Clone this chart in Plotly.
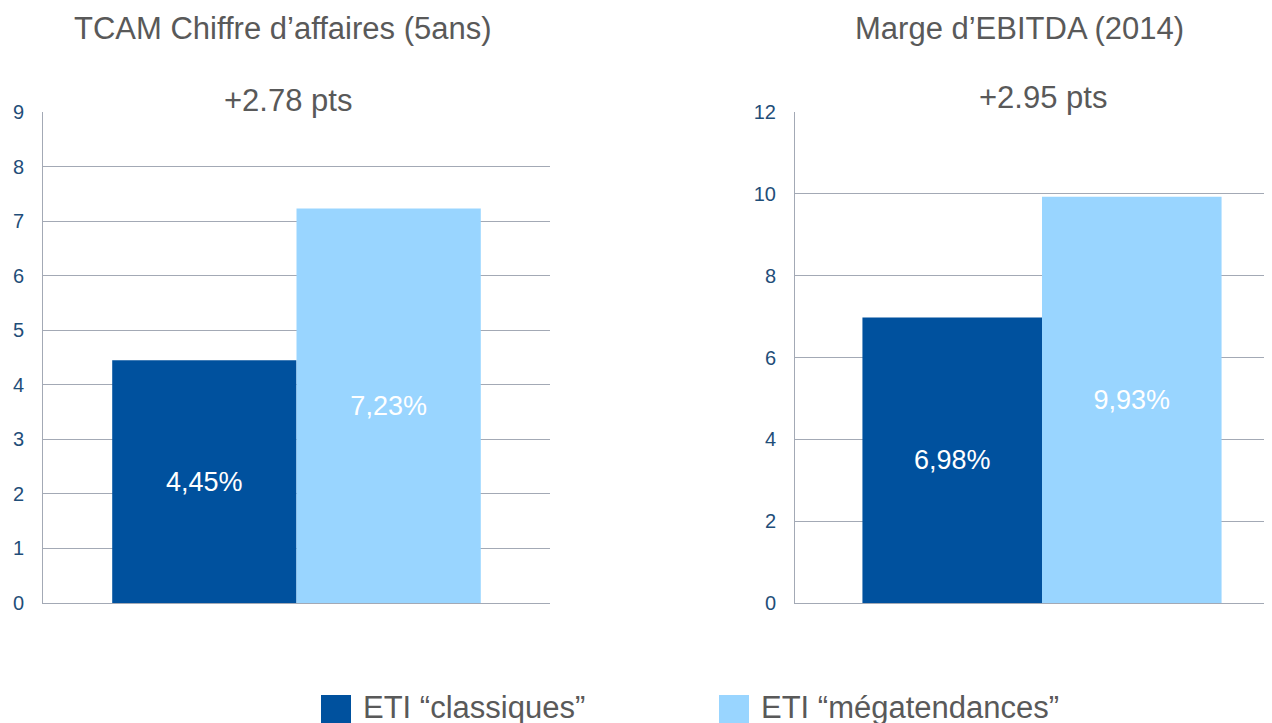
import plotly.graph_objects as go

W, H = 1272, 723
OFF = 8  # page body margin in the browser

series_names = ["ETI “classiques”", "ETI “mégatendances”"]
series_colors = ["#00519E", "#99D5FF"]
panel_titles = ["TCAM Chiffre d’affaires (5ans)", "Marge d’EBITDA (2014)"]
tcam_values = [4.45, 7.23]
ebitda_values = [6.98, 9.93]
tcam_ticks = list(range(0, 10, 1))
ebitda_ticks = list(range(0, 13, 2))

GREY = "#595959"
TICK = "#1F4E79"
GRID = "#A3A9B5"
FONT = "Liberation Sans, Arial, sans-serif"

def fmt(v):
    return f"{v:.2f}".replace(".", ",") + "%"

fig = go.Figure()
panels = [(tcam_values, "x", "y"), (ebitda_values, "x2", "y2")]
for vals, xa, ya in panels:
    for i, (name, col) in enumerate(zip(series_names, series_colors)):
        fig.add_trace(go.Bar(
            x=["c"], y=[vals[i]], name=name, marker_color=col,
            marker_line_width=0, text=[fmt(vals[i])], textposition="inside",
            insidetextanchor="middle", textangle=0,
            textfont=dict(color="white", size=27, family=FONT),
            xaxis=xa, yaxis=ya, showlegend=False, hoverinfo="skip"))

def px_x(p):
    return min(max((p - OFF) / W, 0), 1)

def px_y(p):
    return min(max(1 - (p - OFF) / H, 0), 1)

y0, y1 = px_y(603), px_y(112)

common_x = dict(showticklabels=False, showgrid=False, showline=True,
                linecolor=GRID, linewidth=1, ticks="", fixedrange=True,
                automargin=False)
common_y = dict(showgrid=True, gridcolor=GRID, gridwidth=1, zeroline=False,
                showline=True, linecolor=GRID, linewidth=1, ticks="",
                tickfont=dict(size=20, color=TICK, family=FONT),
                ticklabelstandoff=14, automargin=False)

right_left = 795 - OFF
right_span = (W - right_left) / 494.0

fig.update_layout(
    template="none",
    width=W, height=H, margin=dict(l=0, r=0, t=0, b=0, pad=0),
    paper_bgcolor="white", plot_bgcolor="white",
    barmode="group", bargap=0.273, bargroupgap=0,
    showlegend=False,
    font=dict(family=FONT, color=GREY),
    xaxis=dict(domain=[px_x(43), px_x(550)], range=[-0.5, 0.5], anchor="y", **common_x),
    yaxis=dict(domain=[y0, y1], range=[0, 9], tickvals=tcam_ticks, anchor="x", **common_y),
    xaxis2=dict(domain=[px_x(795), 1], range=[-0.5, -0.5 + right_span], anchor="y2", **common_x),
    yaxis2=dict(domain=[y0, y1], range=[0, 12], tickvals=ebitda_ticks, anchor="x2", **common_y),
)

anns = []
title_pos = [(283, 28), (1019, 28)]
delta_pos = [(288, 100), (1043, 97)]
for t, (tx, ty) in zip(panel_titles, title_pos):
    anns.append(dict(text=t, x=px_x(tx), y=px_y(ty), xref="paper", yref="paper",
                     showarrow=False, xanchor="center", yanchor="middle",
                     font=dict(size=31, color=GREY, family=FONT)))
for vals, (dx, dy) in zip([tcam_values, ebitda_values], delta_pos):
    anns.append(dict(text=f"+{vals[1] - vals[0]:.2f} pts", x=px_x(dx), y=px_y(dy),
                     xref="paper", yref="paper", showarrow=False,
                     xanchor="center", yanchor="middle",
                     font=dict(size=31, color=GREY, family=FONT)))

legend_sq = [321, 719]
shapes = []
for name, col, sx in zip(series_names, series_colors, legend_sq):
    shapes.append(dict(type="rect", xref="paper", yref="paper",
                       x0=px_x(sx), x1=px_x(sx + 30), y0=px_y(725), y1=px_y(695),
                       fillcolor=col, line=dict(width=0)))
    anns.append(dict(text=name, x=px_x(sx + 40), y=px_y(707), xref="paper", yref="paper",
                     showarrow=False, xanchor="left", yanchor="middle",
                     font=dict(size=31, color=GREY, family=FONT)))

fig.update_layout(annotations=anns, shapes=shapes)
fig.write_html("out.html")
